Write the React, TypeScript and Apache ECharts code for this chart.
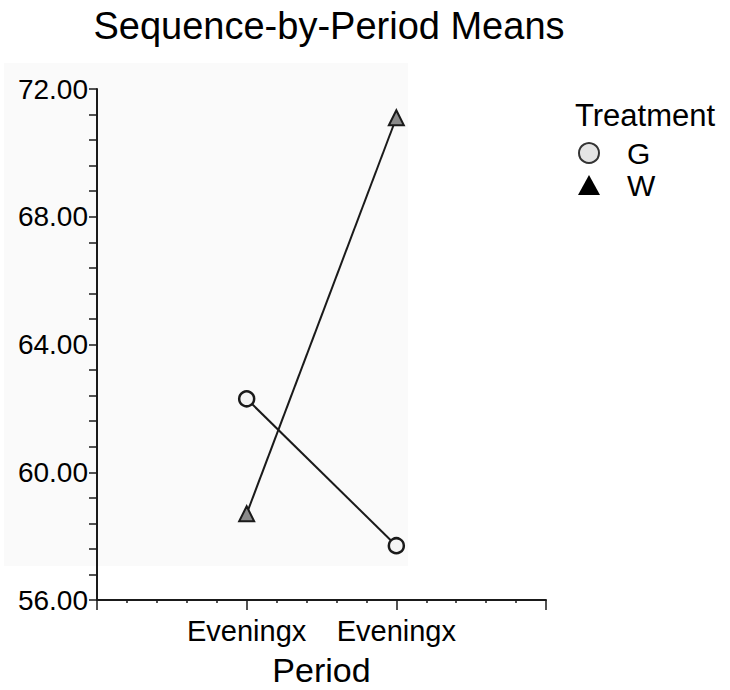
import React, { useEffect, useRef } from "react";
import * as echarts from "echarts";

// Period positions on the x value axis and the label shown under each
const periodPositions = [1, 2];
const periodLabels = ["Eveningx", "Eveningx"];

// Treatment means per period
const treatmentNames = ["G", "W"];
const meansG = [62.3, 57.7];
const meansW = [58.7, 71.1];

// Y axis range and tick step
const yMin = 56;
const yMax = 72;
const yStep = 4;

const FONT = "'Liberation Sans', Arial, sans-serif";
const INK = "#1a1a1a";

const toPoints = (values: number[]) =>
  values.map((v, i) => [periodPositions[i], v]);

export default function App() {
  const ref = useRef<HTMLDivElement>(null);

  useEffect(() => {
    if (!ref.current) return;
    const chart = echarts.init(ref.current, null, { renderer: "svg" });

    const labelFor = (value: number) => {
      const idx = periodPositions.indexOf(value);
      return idx >= 0 ? periodLabels[idx] : "";
    };

    chart.setOption({
      animation: false,
      backgroundColor: "#ffffff",
      textStyle: { fontFamily: FONT },
      title: {
        text: "Sequence-by-Period Means",
        left: 324,
        textAlign: "center",
        top: 2,
        textStyle: { fontFamily: FONT, fontSize: 38, fontWeight: "normal", color: "#000" },
      },
      graphic: [
        {
          type: "rect",
          z: -10,
          silent: true,
          shape: { x: 4, y: 63, width: 404, height: 503 },
          style: { fill: "#fafafa" },
        },
        {
          type: "text",
          left: 575,
          top: 100,
          style: { text: "Treatment", fontFamily: FONT, fontSize: 31, fill: "#000" },
        },
      ],
      legend: {
        orient: "vertical",
        left: 573,
        top: 133,
        itemGap: 2,
        itemWidth: 22,
        itemHeight: 20,
        textStyle: { fontFamily: FONT, fontSize: 30, color: "#000", padding: [0, 0, 0, 22] },
        data: [
          {
            name: treatmentNames[0],
            icon: "circle",
            itemStyle: { color: "#e4e4e4", borderColor: "#333", borderWidth: 2 },
          },
          {
            name: treatmentNames[1],
            icon: "triangle",
            itemStyle: { color: "#000", borderColor: "#000", borderWidth: 0 },
          },
        ],
      },
      grid: {
        left: 97,
        right: 184,
        top: 89,
        bottom: 90,
        containLabel: false,
        outerBoundsMode: "none",
      },
      xAxis: {
        type: "value",
        min: 0,
        max: 3,
        interval: 1,
        name: "Period",
        nameLocation: "middle",
        nameGap: 53,
        nameTextStyle: { fontFamily: FONT, fontSize: 34, color: "#000", lineHeight: 34 },
        axisLine: { show: true, onZero: false, lineStyle: { color: INK, width: 2 } },
        axisTick: { show: true, length: 10, lineStyle: { color: INK, width: 1.5 } },
        minorTick: { show: true, splitNumber: 5, length: 3, lineStyle: { color: INK, width: 1.5 } },
        splitLine: { show: false },
        axisLabel: {
          fontFamily: FONT,
          fontSize: 29,
          color: "#000",
          margin: 16,
          formatter: (v: number) => labelFor(v),
        },
      },
      yAxis: {
        type: "value",
        min: yMin,
        max: yMax,
        interval: yStep,
        axisLine: { show: true, onZero: false, lineStyle: { color: INK, width: 2 } },
        axisTick: { show: true, length: 8, lineStyle: { color: INK, width: 1.5 } },
        minorTick: { show: true, splitNumber: 5, length: 8, lineStyle: { color: INK, width: 1.5 } },
        splitLine: { show: false },
        axisLabel: {
          fontFamily: FONT,
          fontSize: 28,
          color: "#000",
          margin: 9,
          formatter: (v: number) => v.toFixed(2),
        },
      },
      series: [
        {
          name: treatmentNames[0],
          type: "line",
          data: toPoints(meansG),
          symbol: "circle",
          symbolSize: 15,
          showAllSymbol: true,
          lineStyle: { color: INK, width: 2 },
          itemStyle: { color: "#f4f4f4", borderColor: INK, borderWidth: 2.5 },
          emphasis: { disabled: true },
        },
        {
          name: treatmentNames[1],
          type: "line",
          data: toPoints(meansW),
          symbol: "triangle",
          symbolSize: 15,
          showAllSymbol: true,
          lineStyle: { color: INK, width: 2 },
          itemStyle: { color: "#8a8a8a", borderColor: INK, borderWidth: 2 },
          emphasis: { disabled: true },
        },
      ],
    });

    return () => chart.dispose();
  }, []);

  return (
    <div
      ref={ref}
      style={{ position: "fixed", left: 0, top: 0, width: 730, height: 690 }}
    />
  );
}
